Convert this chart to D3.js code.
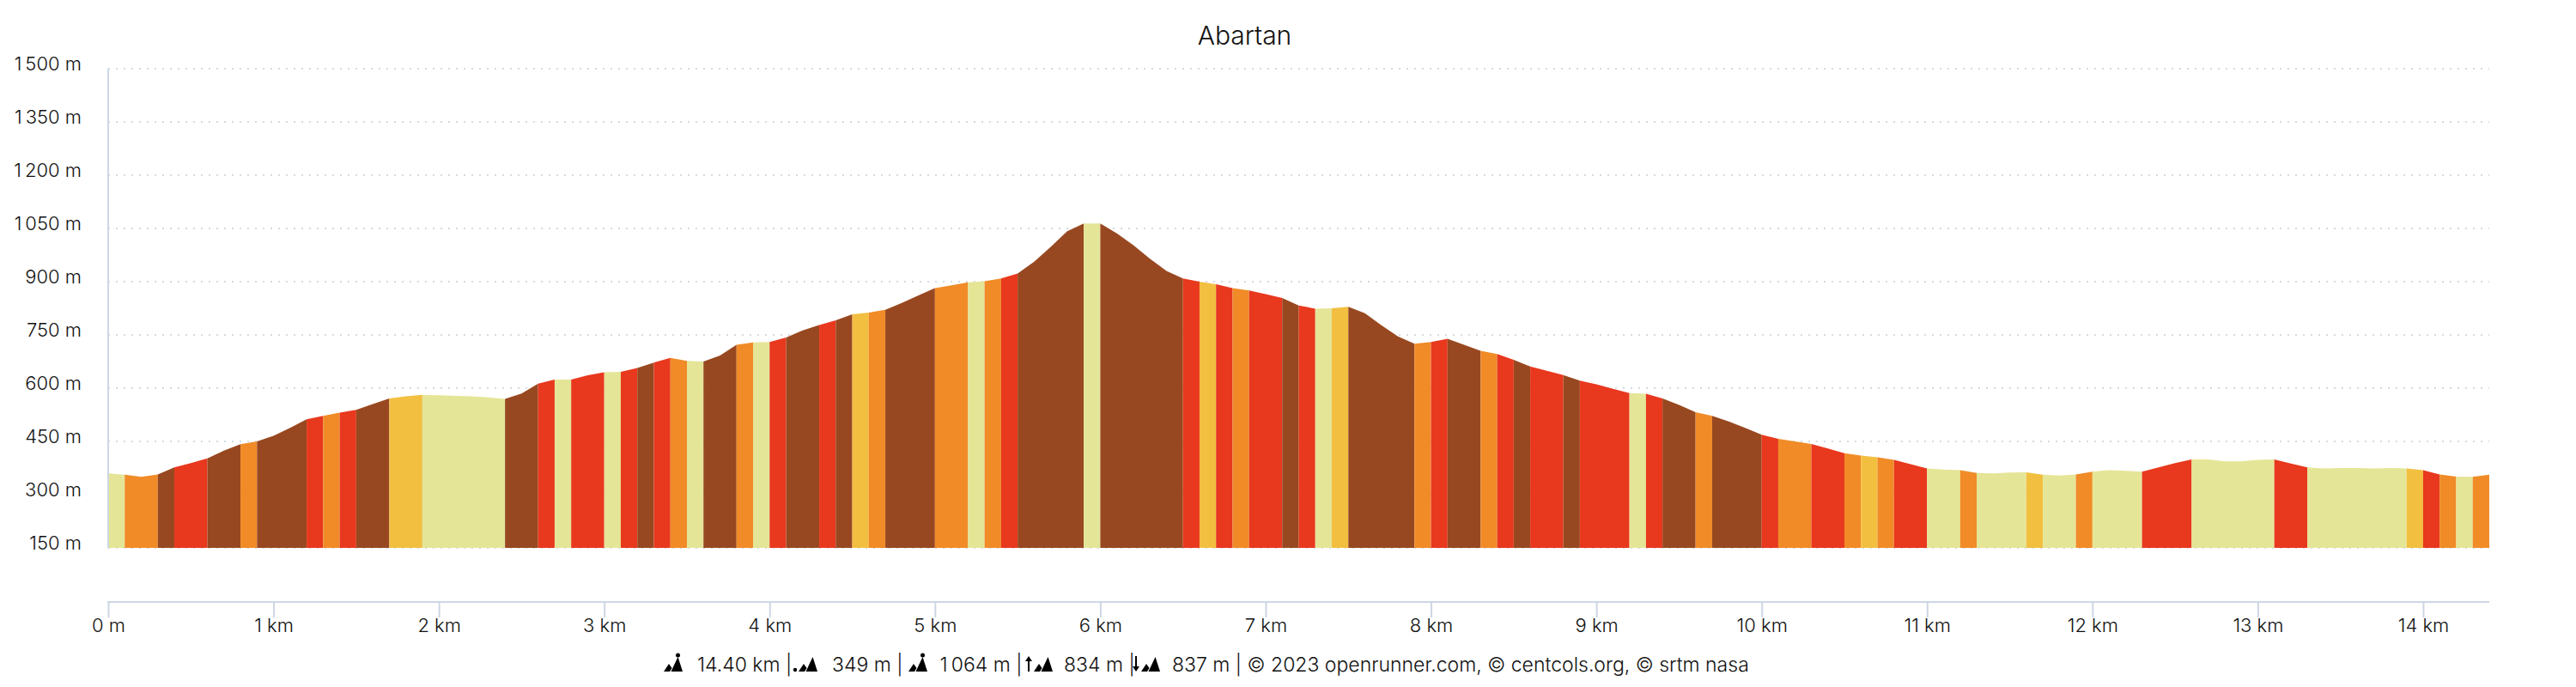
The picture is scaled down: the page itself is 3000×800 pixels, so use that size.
<!DOCTYPE html>
<html>
<head>
<meta charset="utf-8">
<script src="https://cdn.jsdelivr.net/npm/d3@7"></script>
<style>
  html, body { margin: 0; padding: 0; background: #fff; }
  text { font-family: Inter, "Noto Sans", sans-serif; fill: #111; }
</style>
</head>
<body>
<div id="chart"></div>
<script>
const title = "Abartan";
const footerParts = ["14.40 km |", "349 m |", "1\u202F064 m |", "834 m |", "837 m | © 2023 openrunner.com, © centcols.org, © srtm nasa"];
const yTicks = [150, 300, 450, 600, 750, 900, 1050, 1200, 1350, 1500];
const xTicks = [0, 1, 2, 3, 4, 5, 6, 7, 8, 9, 10, 11, 12, 13, 14];

// altitude in metres, one value every 100 m of distance (0 to 14.4 km)
const elevation = [
  360, 356, 350, 357, 377, 389, 402, 424, 442, 450,
  466, 488, 512, 522, 531, 539, 555, 571, 577, 581,
  580, 578, 577, 574, 570, 585, 613, 624, 624, 636,
  645, 646, 657, 672, 685, 677, 675, 692, 722, 729,
  730, 743, 763, 778, 791, 808, 813, 821, 840, 861,
  882, 890, 898, 901, 909, 923, 956, 998, 1042, 1064,
  1064, 1036, 1003, 965, 930, 909, 900, 893, 882, 875,
  865, 854, 833, 824, 825, 829, 811, 777, 746, 725,
  730, 739, 722, 705, 696, 680, 661, 649, 637, 621,
  611, 598, 586, 584, 571, 553, 532, 522, 506, 488,
  469, 457, 450, 443, 430, 417, 410, 405, 398, 386,
  374, 371, 369, 361, 360, 362, 363, 356, 354, 357,
  365, 369, 367, 365, 377, 389, 399, 399, 394, 394,
  398, 399, 388, 377, 374, 375, 375, 374, 375, 374,
  369, 357, 351, 350, 356
];

// slope class of each 100 m section: 0 flat ... 4 steep
const slopeClass = [
  0, 2, 2, 4, 3, 3, 4, 4, 2, 4,
  4, 4, 3, 2, 3, 4, 4, 1, 1, 0,
  0, 0, 0, 0, 4, 4, 3, 0, 3, 3,
  0, 3, 4, 3, 2, 0, 4, 4, 2, 0,
  3, 4, 4, 3, 4, 1, 2, 4, 4, 4,
  2, 2, 0, 2, 3, 4, 4, 4, 4, 0,
  4, 4, 4, 4, 4, 3, 1, 3, 2, 3,
  3, 4, 3, 0, 1, 4, 4, 4, 4, 2,
  3, 4, 4, 2, 3, 4, 3, 3, 4, 3,
  3, 3, 0, 3, 4, 4, 2, 4, 4, 4,
  3, 2, 2, 3, 3, 2, 1, 2, 3, 3,
  0, 0, 2, 0, 0, 0, 1, 0, 0, 2,
  0, 0, 0, 3, 3, 3, 0, 0, 0, 0,
  0, 3, 3, 0, 0, 0, 0, 0, 0, 1,
  3, 2, 0, 2
];
const slopeColors = ["#e5e597", "#f2bf40", "#f08b27", "#e8381e", "#984820"];

const width = 3000, height = 800;
const margin = { top: 80, right: 101, bottom: 100, left: 126 };
const plotBottom = height - margin.bottom;

const svg = d3.select("#chart").append("svg")
  .attr("width", width).attr("height", height)
  .style("display", "block");

const xScale = d3.scaleLinear().domain([0, 14.4]).range([margin.left, width - margin.right]);
const yScale = d3.scaleLinear().domain([0, 1500]).range([plotBottom, margin.top]);
const colorScale = d3.scaleOrdinal().domain([0, 1, 2, 3, 4]).range(slopeColors);

// grid
svg.append("g").selectAll("line").data(yTicks).enter().append("line")
  .attr("x1", xScale(0)).attr("x2", xScale(14.4))
  .attr("y1", d => yScale(d)).attr("y2", d => yScale(d))
  .attr("stroke", "#d5dae3").attr("stroke-width", 2).attr("stroke-dasharray", "2 7");

// neighbouring sections of the same class become one run, so no seams show
const runs = [];
slopeClass.forEach((c, i) => {
  const last = runs[runs.length - 1];
  if (last && last.cls === c) last.end = i + 1;
  else runs.push({ cls: c, start: i, end: i + 1 });
});

const area = d3.area()
  .x(i => xScale(i / 10))
  .y0(yScale(150))
  .y1(i => yScale(elevation[i]));

svg.append("g").selectAll("path").data(runs).enter().append("path")
  .attr("fill", d => colorScale(d.cls))
  .attr("d", d => area(d3.range(d.start, d.end + 1)));

// y axis
const yAxis = d3.axisLeft(yScale)
  .tickValues(yTicks)
  .tickSize(0)
  .tickPadding(31)
  .tickFormat(d => (d >= 1000 ? `${Math.floor(d / 1000)}\u202F${String(d % 1000).padStart(3, "0")}` : d) + " m");
const yG = svg.append("g").attr("transform", `translate(${margin.left},0)`).call(yAxis);
yG.select(".domain").remove();
yG.selectAll("text").attr("font-size", 22).attr("font-weight", 300).attr("dy", "0.09em").attr("font-family", "Inter");
svg.append("line")
  .attr("x1", margin.left).attr("x2", margin.left)
  .attr("y1", yScale(1500)).attr("y2", yScale(150))
  .attr("stroke", "#ccd6e4").attr("stroke-width", 2);

// x axis
const xAxis = d3.axisBottom(xScale)
  .tickValues(xTicks)
  .tickSize(18)
  .tickPadding(1)
  .tickFormat(d => d === 0 ? "0 m" : `${d} km`);
const xG = svg.append("g").attr("transform", `translate(0,${plotBottom + 1})`).call(xAxis);
xG.select(".domain").attr("stroke", "#ccd6e4").attr("stroke-width", 2).attr("d", `M${xScale(0) - 1},0H${xScale(14.4)}`);
xG.selectAll(".tick line").attr("stroke", "#ccd6e4").attr("stroke-width", 2);
xG.selectAll("text").attr("font-size", 22).attr("font-weight", 300).attr("font-family", "Inter");

// title
svg.append("text").attr("x", 1449.5).attr("y", 52)
  .attr("text-anchor", "middle").attr("font-size", 30).attr("font-weight", 300)
  .text(title);

// footer: mountain icons with text between them
const footerY = 782;
const footerX = [812, 969, 1094.5, 1239, 1365];
const iconX = [773, 930, 1058, 1204, 1329];
const iconMarks = ["top", "dot", "top", "up", "down"];
const footer = svg.append("g");
footerParts.forEach((t, i) => {
  footer.append("text").attr("x", footerX[i]).attr("y", footerY)
    .attr("font-size", 23).attr("font-weight", 300).text(t);
  const icon = footer.append("g").attr("transform", `translate(${iconX[i]},${footerY})`).attr("fill", "#000");
  icon.append("path").attr("d", "M0,0L6,-9L9.5,-4L7,0Z");
  icon.append("path").attr("d", "M8.5,0L16.5,-17L22,0Z");
  const mark = iconMarks[i];
  if (mark === "top") icon.append("circle").attr("cx", 16.5).attr("cy", -19).attr("r", 2.5);
  if (mark === "dot") icon.append("circle").attr("cx", -4).attr("cy", -2).attr("r", 2.2);
  if (mark === "up") icon.append("path").attr("d", "M-7,0V-12H-10L-6,-18L-2,-12H-5V0Z");
  if (mark === "down") icon.append("path").attr("d", "M-7,-18V-6H-10L-6,0L-2,-6H-5V-18Z");
});
</script>
</body>
</html>
